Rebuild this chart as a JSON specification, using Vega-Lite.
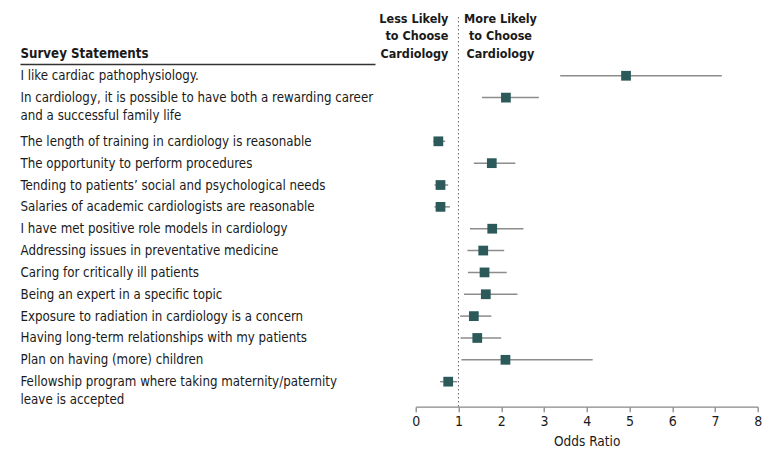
{
  "$schema": "https://vega.github.io/schema/vega-lite/v6.json",
  "autosize": {"type": "none"},
  "padding": {"left": 415.7, "top": 17, "right": 25.3, "bottom": 52.3},
  "width": 342,
  "height": 389.7,
  "config": {
    "view": {"stroke": null},
    "font": "DejaVu Sans Condensed"
  },
  "datasets": {
    "stats": [
      {"statement": "I like cardiac pathophysiology.", "odds_ratio": 4.92, "ci_low": 3.38, "ci_high": 7.16},
      {"statement": "In cardiology, it is possible to have both a rewarding career\nand a successful family life", "odds_ratio": 2.11, "ci_low": 1.55, "ci_high": 2.88},
      {"statement": "The length of training in cardiology is reasonable", "odds_ratio": 0.53, "ci_low": 0.41, "ci_high": 0.69},
      {"statement": "The opportunity to perform procedures", "odds_ratio": 1.78, "ci_low": 1.36, "ci_high": 2.33},
      {"statement": "Tending to patients’ social and psychological needs", "odds_ratio": 0.58, "ci_low": 0.44, "ci_high": 0.76},
      {"statement": "Salaries of academic cardiologists are reasonable", "odds_ratio": 0.58, "ci_low": 0.44, "ci_high": 0.8},
      {"statement": "I have met positive role models in cardiology", "odds_ratio": 1.79, "ci_low": 1.27, "ci_high": 2.52},
      {"statement": "Addressing issues in preventative medicine", "odds_ratio": 1.58, "ci_low": 1.21, "ci_high": 2.07},
      {"statement": "Caring for critically ill patients", "odds_ratio": 1.61, "ci_low": 1.22, "ci_high": 2.13},
      {"statement": "Being an expert in a specific topic", "odds_ratio": 1.64, "ci_low": 1.13, "ci_high": 2.38},
      {"statement": "Exposure to radiation in cardiology is a concern", "odds_ratio": 1.36, "ci_low": 1.04, "ci_high": 1.77},
      {"statement": "Having long-term relationships with my patients", "odds_ratio": 1.44, "ci_low": 1.05, "ci_high": 2.0},
      {"statement": "Plan on having (more) children", "odds_ratio": 2.1, "ci_low": 1.07, "ci_high": 4.14},
      {"statement": "Fellowship program where taking maternity/paternity\nleave is accepted", "odds_ratio": 0.76, "ci_low": 0.57, "ci_high": 0.97}
    ],
    "headers": [
      {"side": "less", "text": "Less Likely\nto Choose\nCardiology"},
      {"side": "more", "text": "More Likely\nto Choose\nCardiology"}
    ]
  },
  "data": {"name": "stats"},
  "encoding": {
    "y": {
      "field": "statement",
      "type": "nominal",
      "sort": null,
      "scale": {
        "type": "band",
        "domain": [
          "Survey Statements",
          "I like cardiac pathophysiology.",
          "In cardiology, it is possible to have both a rewarding career\nand a successful family life",
          " ",
          "The length of training in cardiology is reasonable",
          "The opportunity to perform procedures",
          "Tending to patients’ social and psychological needs",
          "Salaries of academic cardiologists are reasonable",
          "I have met positive role models in cardiology",
          "Addressing issues in preventative medicine",
          "Caring for critically ill patients",
          "Being an expert in a specific topic",
          "Exposure to radiation in cardiology is a concern",
          "Having long-term relationships with my patients",
          "Plan on having (more) children",
          "Fellowship program where taking maternity/paternity\nleave is accepted"
        ],
        "paddingInner": 0,
        "paddingOuter": 0.9176,
        "align": 0.648
      },
      "axis": {
        "title": null,
        "orient": "left",
        "offset": 40.7,
        "domain": false,
        "grid": false,
        "tickSize": 355,
        "tickWidth": 1.5,
        "bandPosition": 1,
        "tickExtra": false,
        "tickColor": {"condition": {"test": "datum.value === 'Survey Statements'", "value": "#333333"}, "value": "transparent"},
        "labelAlign": "left",
        "labelBaseline": "alphabetic",
        "labelOffset": 4.5,
        "labelPadding": 0,
        "labelLimit": 0,
        "labelOverlap": false,
        "labelFontSize": 13.2,
        "labelLineHeight": 18,
        "labelColor": "#1a1a1a",
        "labelFontWeight": {"condition": {"test": "datum.value === 'Survey Statements'", "value": "bold"}, "value": "normal"},
        "labelExpr": "datum.value === ' ' ? '' : split(datum.value, '\\n')"
      }
    }
  },
  "layer": [
    {
      "data": {"values": [{}]},
      "mark": {"type": "rule", "strokeDash": [1.5, 2.5], "color": "#666666", "strokeWidth": 1},
      "encoding": {"x": {"datum": 1, "type": "quantitative"}, "y": null}
    },
    {
      "mark": {"type": "rule", "color": "#8c8c8c", "strokeWidth": 1.5},
      "encoding": {
        "x": {
          "field": "ci_low",
          "type": "quantitative",
          "scale": {"domain": [0, 8], "nice": false},
          "axis": {
            "title": "Odds Ratio",
            "values": [0, 1, 2, 3, 4, 5, 6, 7, 8],
            "grid": false,
            "domainColor": "#888888",
            "domainWidth": 1.3,
            "tickColor": "#888888",
            "tickSize": 5,
            "tickWidth": 1.3,
            "labelFontSize": 14,
            "labelColor": "#1a1a1a",
            "labelPadding": 3,
            "labelFlush": false,
            "titleFontSize": 13.5,
            "titleFontWeight": "normal",
            "titleColor": "#1a1a1a",
            "titlePadding": 6
          }
        },
        "x2": {"field": "ci_high"}
      }
    },
    {
      "mark": {"type": "square", "color": "#2c5a5a", "size": 95, "opacity": 1, "filled": true},
      "encoding": {
        "x": {"field": "odds_ratio", "type": "quantitative"}
      }
    },
    {
      "data": {"name": "headers"},
      "transform": [{"filter": "datum.side === 'less'"}],
      "mark": {"type": "text", "align": "right", "baseline": "middle", "dx": -10, "dy": -35, "lineBreak": "\n", "lineHeight": 17.5, "fontSize": 12.5, "fontWeight": "bold", "color": "#1a1a1a"},
      "encoding": {
        "x": {"datum": 1, "type": "quantitative"},
        "y": {"datum": "Survey Statements", "type": "nominal"},
        "text": {"field": "text", "type": "nominal"}
      }
    },
    {
      "data": {"name": "headers"},
      "transform": [{"filter": "datum.side === 'more'"}],
      "mark": {"type": "text", "align": "center", "baseline": "middle", "dx": 42, "dy": -35, "lineBreak": "\n", "lineHeight": 17.5, "fontSize": 12.5, "fontWeight": "bold", "color": "#1a1a1a"},
      "encoding": {
        "x": {"datum": 1, "type": "quantitative"},
        "y": {"datum": "Survey Statements", "type": "nominal"},
        "text": {"field": "text", "type": "nominal"}
      }
    }
  ]
}
